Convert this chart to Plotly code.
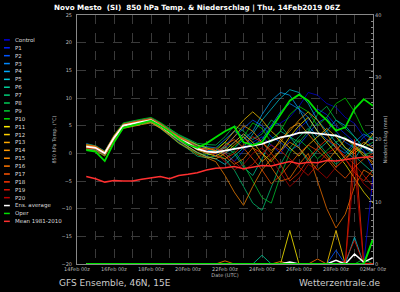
import pandas as pd
import plotly.graph_objects as go

# ---------------- data ----------------
TIMES = pd.date_range("2019-02-14 12:00", periods=32, freq="12h")

TICK_VALS = ["2019-02-14", "2019-02-16", "2019-02-18", "2019-02-20", "2019-02-22",
             "2019-02-24", "2019-02-26", "2019-02-28", "2019-03-02"]
TICK_TEXT = ["14Feb 00z", "16Feb 00z", "18Feb 00z", "20Feb 00z", "22Feb 00z",
             "24Feb 00z", "26Feb 00z", "28Feb 00z", "02Mar 00z"]

MEMBER_NAMES = ["Control"] + ["P%d" % i for i in range(1, 21)]

T_CONTROL = [1.5, 1.2, 0.2, 3.0, 5.2, 5.6, 5.8, 6.2, 5.3, 4.0, 2.8, 2.0, 1.0, 0.6,
             0.0, 1.0, 2.0, 3.5, 2.5, 4.0, 5.0, 5.5, 6.5, 8.5, 11.0, 10.5, 9.0, 8.3, 6.5, 5.4, 3.0, 1.0]
T_P1 = [1.0, 0.8, -0.3, 2.5, 4.8, 5.2, 5.5, 5.8, 4.6, 3.5, 2.2, 1.2, 0.2, -0.5,
        0.8, 0.0, -1.5, 0.5, 2.0, 3.0, 1.5, 0.0, 2.5, 4.5, 6.0, 8.0, 7.0, 5.0, 3.5, 2.0, 0.5, -3.0]
T_P2 = [1.8, 1.3, 0.3, 3.2, 5.3, 5.8, 6.1, 6.4, 5.5, 4.3, 3.2, 2.5, 1.5, 0.8,
        -0.5, 1.5, 3.0, 4.5, 6.0, 5.0, 3.0, 2.0, 0.5, 1.5, 3.5, 5.5, 6.5, 4.0, 2.0, 1.0, 3.0, 4.0]
T_P3 = [0.8, 0.6, -0.2, 2.6, 4.9, 5.3, 5.6, 5.9, 5.1, 4.1, 3.0, 2.2, 1.4, 1.2,
        1.0, 2.5, 4.0, 3.0, 1.5, 2.5, 5.0, 7.5, 9.0, 8.0, 6.5, 4.0, 2.5, 1.0, 0.0, 2.0, 3.5, 2.5]
T_P4 = [1.3, 1.0, 0.1, 2.9, 5.1, 5.5, 5.7, 6.1, 5.2, 3.9, 2.5, 1.6, 0.9, 0.4,
        0.5, 0.0, 1.0, 2.5, 4.0, 7.0, 9.5, 11.0, 10.5, 8.0, 5.0, 3.0, 4.0, 6.0, 5.0, 3.0, 1.0, 0.0]
T_P5 = [1.1, 0.9, 0.0, 2.7, 4.7, 5.1, 5.4, 5.7, 4.8, 3.6, 2.4, 1.3, 0.1, -0.6,
        -1.0, -2.0, -0.5, 1.0, 3.5, 6.0, 8.0, 10.0, 11.5, 11.0, 9.0, 6.0, 4.0, 2.0, 0.5, -1.0, 1.5, 3.0]
T_P6 = [1.6, 1.4, 0.4, 3.1, 5.4, 5.7, 6.0, 6.3, 5.4, 4.2, 3.0, 2.1, 1.1, 0.7,
        0.3, 1.2, 0.0, -2.5, -4.0, -1.0, 2.5, 4.0, 3.0, 1.0, -1.5, 0.5, 2.0, 3.5, 1.0, -0.5, -2.0, -3.5]
T_P7 = [0.9, 0.7, -0.4, 2.4, 4.6, 5.0, 5.3, 5.6, 4.5, 3.2, 1.8, 0.8, -0.5, -0.8,
        -0.5, -1.0, -3.0, -6.0, -9.0, -10.3, -6.0, -2.0, 1.0, 3.0, 4.5, 2.0, 0.0, -2.0, -0.5, 1.5, 0.0, -1.0]
T_P8 = [1.4, 1.1, 0.2, 3.0, 5.2, 5.6, 5.9, 6.2, 5.4, 4.4, 3.4, 2.6, 1.8, 1.6,
        1.5, 3.0, 5.0, 4.0, 2.5, 3.5, 6.0, 5.0, 3.0, 2.0, 4.0, 7.0, 8.5, 6.0, 4.5, 3.0, 1.0, 2.0]
T_P9 = [1.0, 0.9, -0.1, 2.8, 5.0, 5.4, 5.6, 5.8, 4.7, 3.4, 2.0, 1.0, 0.0, -0.3,
        0.0, -1.0, 0.5, -2.0, -5.0, -8.0, -9.0, -4.0, 0.0, 2.5, 1.0, -1.0, 0.5, 2.0, 3.0, 1.0, -0.5, 0.5]
T_P10 = [1.7, 1.3, 0.3, 3.3, 5.5, 5.9, 6.2, 6.5, 5.6, 4.5, 3.3, 2.4, 1.6, 1.0,
         0.8, 2.0, 1.0, 3.0, 5.5, 4.5, 2.0, 4.0, 7.0, 8.5, 7.5, 5.0, 6.5, 9.0, 10.0, 7.5, 4.0, 2.5]
T_P11 = [1.2, 1.0, 0.0, 2.7, 4.9, 5.3, 5.5, 5.9, 4.9, 3.7, 2.6, 1.7, 0.6, 0.0,
         -0.5, 0.5, 2.0, 3.5, 2.0, 0.0, -1.5, 0.5, 3.0, 5.0, 6.5, 4.0, 2.0, 0.0, -2.0, -4.5, -7.0, -9.0]
T_P12 = [1.5, 1.2, 0.1, 3.0, 5.1, 5.5, 5.8, 6.0, 5.1, 4.0, 3.0, 2.3, 1.5, 1.0,
         0.5, 2.0, 4.0, 6.0, 7.5, 6.0, 4.0, 2.5, 1.0, -0.5, 1.5, 3.0, 4.5, 3.0, 1.0, 0.0, 1.5, 3.5]
T_P13 = [0.7, 0.5, -0.5, 2.3, 4.5, 4.9, 5.2, 5.5, 4.6, 3.5, 2.3, 1.2, 0.2, -0.6,
         -1.0, 0.0, 1.5, 3.0, 1.0, -1.5, 0.0, 2.5, 4.0, 6.0, 7.5, 6.0, 3.5, 1.0, -1.0, 0.5, 2.0, 1.0]
T_P14 = [1.3, 1.1, 0.1, 2.9, 5.0, 5.5, 5.8, 6.1, 5.2, 4.0, 2.9, 2.0, 1.0, 0.4,
         0.0, 1.0, 3.0, 5.0, 4.0, 2.0, 0.5, 2.0, 4.5, 5.5, 3.5, 1.5, -0.5, -2.5, -1.0, 1.0, 0.0, -2.0]
T_P15 = [1.1, 0.8, -0.2, 2.6, 4.8, 5.1, 5.4, 5.7, 4.6, 3.3, 1.9, 0.9, -0.2, -0.8,
         -1.5, -4.0, -7.0, -9.4, -6.0, -3.0, -1.0, 0.5, 2.0, 1.0, -1.0, -3.0, -1.5, 0.5, 2.5, 1.5, -0.5, -1.5]
T_P16 = [1.4, 1.2, 0.2, 3.1, 5.2, 5.6, 5.9, 6.2, 5.3, 4.1, 2.8, 1.8, 1.0, 0.8,
         0.5, -0.5, -2.0, -1.0, 1.0, 0.0, -2.5, -5.0, -4.5, -2.0, 0.0, -5.0, -10.0, -13.5, -11.0, -6.0, -3.0, -4.0]
T_P17 = [1.0, 0.9, 0.0, 2.8, 5.0, 5.3, 5.6, 6.0, 5.0, 3.8, 2.7, 1.9, 0.8, 0.2,
         0.0, 1.5, 2.5, 1.0, -1.0, -3.0, -5.5, -4.0, -2.0, 0.0, 1.5, 0.5, -1.0, -3.0, -4.5, -2.5, -1.0, 0.0]
T_P18 = [1.6, 1.3, 0.3, 3.2, 5.3, 5.7, 6.0, 6.3, 5.4, 4.2, 3.1, 2.2, 1.2, 0.5,
         -0.5, -1.0, 0.0, 1.5, 3.0, 2.0, 0.0, -2.0, -5.0, -3.5, -1.0, 1.0, 2.5, 1.5, -1.0, -3.5, -5.0, -3.0]
T_P19 = [0.9, 0.8, -0.2, 2.5, 4.7, 5.2, 5.5, 5.8, 4.8, 3.6, 2.5, 1.6, 0.7, 0.6,
         1.0, 0.0, -1.5, -3.0, -2.0, 0.0, 1.5, 0.5, -1.0, -2.5, -4.0, -2.0, 0.0, 1.0, -0.5, -2.0, -4.0, -6.0]
T_P20 = [1.2, 1.0, 0.0, 2.8, 4.9, 5.4, 5.7, 6.0, 5.1, 3.9, 2.6, 1.7, 0.7, 0.2,
         0.0, -1.5, -3.0, -2.0, 0.0, 1.0, -1.0, -3.5, -6.0, -4.5, -2.0, -3.0, -4.5, -2.5, -1.0, -3.0, -5.5, -7.0]

T_ENS_AVG = [1.2, 1.0, 0.0, 2.8, 5.0, 5.4, 5.7, 6.0, 5.0, 3.8, 2.6, 1.8, 0.8, 0.3,
             0.2, 0.5, 0.8, 1.0, 1.4, 1.7, 2.3, 2.9, 3.2, 3.7, 3.8, 3.6, 3.4, 3.2, 2.6, 1.8, 1.2, 0.5]
T_OPER = [0.6, 0.3, -1.4, 2.0, 4.6, 5.0, 5.5, 5.9, 5.0, 3.9, 2.6, 1.6, 1.0, 1.8,
          2.9, 4.0, 4.8, 2.0, 1.5, 2.0, 4.5, 7.0, 9.5, 10.6, 9.5, 7.5, 6.0, 4.1, 4.7, 8.0, 9.8, 8.6]
T_MEAN_8110 = [-4.2, -4.6, -5.2, -4.9, -5.0, -5.0, -4.7, -4.5, -4.2, -4.6, -4.0, -3.8, -3.5, -3.0,
               -2.7, -2.6, -2.4, -2.8, -2.5, -2.2, -2.3, -1.9, -1.5, -1.9, -1.6, -1.7, -1.3, -1.4,
               -1.1, -0.9, -0.7, -0.6]

# precipitation (mm) per member
P_CONTROL = [0]*31 + [14.0]
P_P1 = [0]*32
P_P2 = [0]*27 + [2.2] + [0]*4
P_P3 = [0]*32
P_P4 = [0]*32
P_P5 = [0]*29 + [4.3] + [0]*2
P_P6 = [0]*19 + [1.4] + [0]*12
P_P7 = [0]*32
P_P8 = [0]*32
P_P9 = [0]*30 + [0.8] + [0]
P_P10 = [0]*32
P_P11 = [0]*22 + [5.4] + [0]*9
P_P12 = [0]*27 + [5.4] + [0]*4
P_P13 = [0]*32
P_P14 = [0]*21 + [0.4] + [0]*10
P_P15 = [0]*15 + [0.5] + [0]*16
P_P16 = [0]*25 + [0.8] + [0]*6
P_P17 = [0]*32
P_P18 = [0]*29 + [20.0] + [0]*2
P_P19 = [0]*28 + [0.5, 3.8] + [0]*2
P_P20 = [0]*29 + [16.0] + [0]*2
P_ENS_AVG = [0]*22 + [0.3, 0, 0, 0, 0, 0.6, 0, 1.6, 0.3, 1.0]
P_OPER = [0]*31 + [4.0]

TEMPS = [T_CONTROL, T_P1, T_P2, T_P3, T_P4, T_P5, T_P6, T_P7, T_P8, T_P9, T_P10,
         T_P11, T_P12, T_P13, T_P14, T_P15, T_P16, T_P17, T_P18, T_P19, T_P20]
PRECS = [P_CONTROL, P_P1, P_P2, P_P3, P_P4, P_P5, P_P6, P_P7, P_P8, P_P9, P_P10,
         P_P11, P_P12, P_P13, P_P14, P_P15, P_P16, P_P17, P_P18, P_P19, P_P20]

# ---------------- styles ----------------
MEMBER_COLORS = ["#0000e0", "#0022ff", "#0055ff", "#0088ff", "#00aaff", "#00ccdd",
                 "#00cc99", "#00cc77", "#00cc55", "#00cc33", "#00dd00",
                 "#ffee00", "#ffd000", "#ffaa00", "#ff9900", "#ff8800", "#ff7700",
                 "#ff5500", "#ff3300", "#dd1100", "#bb0000"]
AVG_COLOR = "#ffffff"
OPER_COLOR = "#00e000"
MEAN_COLOR = "#ff3030"
FONT = "DejaVu Sans"

W, H = 400, 292
L, R, T, B = 77, 19, 14, 28
PW, PH = W - L - R, H - T - B

fig = go.Figure()

for name, col, t in zip(MEMBER_NAMES, MEMBER_COLORS, TEMPS):
    fig.add_trace(go.Scatter(x=TIMES, y=t, mode="lines", name=name,
                             line=dict(color=col, width=1), opacity=0.72,
                             showlegend=False))
for name, col, p in zip(MEMBER_NAMES, MEMBER_COLORS, PRECS):
    fig.add_trace(go.Scatter(x=TIMES, y=p, mode="lines", name=name + " precip",
                             line=dict(color=col, width=1), opacity=0.8,
                             yaxis="y2", showlegend=False))
fig.add_trace(go.Scatter(x=TIMES, y=P_ENS_AVG, mode="lines", yaxis="y2",
                         line=dict(color=AVG_COLOR, width=1.5), showlegend=False))
fig.add_trace(go.Scatter(x=TIMES, y=P_OPER, mode="lines", yaxis="y2",
                         line=dict(color=OPER_COLOR, width=2), showlegend=False))
fig.add_trace(go.Scatter(x=TIMES, y=T_MEAN_8110, mode="lines", name="Mean 1981-2010",
                         line=dict(color=MEAN_COLOR, width=1.5), showlegend=False))
fig.add_trace(go.Scatter(x=TIMES, y=T_ENS_AVG, mode="lines", name="Ens. average",
                         line=dict(color=AVG_COLOR, width=1.8), showlegend=False))
fig.add_trace(go.Scatter(x=TIMES, y=T_OPER, mode="lines", name="Oper",
                         line=dict(color=OPER_COLOR, width=1.8), showlegend=False))

# ---------------- custom legend ----------------
LEG_NAMES = MEMBER_NAMES + ["Ens. average", "Oper", "Mean 1981-2010"]
LEG_COLORS = MEMBER_COLORS + [AVG_COLOR, OPER_COLOR, MEAN_COLOR]
shapes = []
annotations = []
def px_x(px):
    return (px - L) / PW
def px_y(py):
    return (H - B - py) / PH
for i, (nm, col) in enumerate(zip(LEG_NAMES, LEG_COLORS)):
    yy = 39 + i * 7.92
    shapes.append(dict(type="line", xref="paper", yref="paper",
                       x0=px_x(2), x1=px_x(8), y0=px_y(yy), y1=px_y(yy),
                       line=dict(color=col, width=1.5)))
    annotations.append(dict(text=nm, xref="paper", yref="paper", x=px_x(11), y=px_y(yy),
                            xanchor="left", yanchor="middle", showarrow=False,
                            font=dict(family=FONT, size=5.5, color="#dddddd")))

annotations.append(dict(text="Novo Mesto  (SI)  850 hPa Temp. & Niederschlag | Thu, 14Feb2019 06Z",
                        xref="paper", yref="paper", x=px_x(200), y=px_y(6.5),
                        xanchor="center", yanchor="middle", showarrow=False,
                        font=dict(family=FONT, size=7.2, color="#ffffff", weight="bold")))
annotations.append(dict(text="GFS Ensemble, 46N, 15E", xref="paper", yref="paper",
                        x=px_x(56), y=px_y(283.5), xanchor="left", yanchor="middle",
                        showarrow=False, font=dict(family=FONT, size=9, color="#cccccc")))
annotations.append(dict(text="Wetterzentrale.de", xref="paper", yref="paper",
                        x=px_x(391), y=px_y(283.5), xanchor="right", yanchor="middle",
                        showarrow=False, font=dict(family=FONT, size=9, color="#cccccc")))

AX_FONT = dict(family=FONT, size=5, color="#bbbbbb")
GRID = "#3a3a3a"

fig.update_layout(
    width=W, height=H,
    margin=dict(l=L, r=R, t=T, b=B, pad=0),
    paper_bgcolor="#000000", plot_bgcolor="#000000",
    showlegend=False,
    shapes=shapes, annotations=annotations,
    xaxis=dict(type="date", range=["2019-02-14 00:00", "2019-03-02 00:00"],
               tickvals=TICK_VALS, ticktext=TICK_TEXT, tickfont=AX_FONT,
               showgrid=True, gridcolor=GRID, griddash="dash", gridwidth=1,
               minor=dict(dtick=86400000, tick0="2019-02-14", showgrid=True,
                          gridcolor=GRID, griddash="dash", gridwidth=1),
               showline=True, linecolor="#888888", linewidth=1, mirror=True,
               ticks="", zeroline=False,
               title=dict(text="Date (UTC)", font=AX_FONT, standoff=1)),
    yaxis=dict(range=[-20, 25], dtick=5, tickfont=AX_FONT,
               showgrid=True, gridcolor=GRID, griddash="dash", gridwidth=1,
               showline=True, linecolor="#888888", linewidth=1, zeroline=False,
               ticks="", ticklabelstandoff=3,
               title=dict(text="850 hPa Temp. (°C)", font=AX_FONT, standoff=4)),
    yaxis2=dict(range=[0, 40], overlaying="y", side="right", tickvals=[0, 10, 20, 30, 40],
                tickfont=AX_FONT, showgrid=False, zeroline=False,
                showline=True, linecolor="#888888", linewidth=1,
                ticks="inside", ticklen=4, tickcolor="#888888",
                minor=dict(dtick=1, ticks="inside", ticklen=2, tickcolor="#888888"),
                title=dict(text="Niederschlag (mm)", font=AX_FONT, standoff=3)),
)

fig.write_html("out.html")
